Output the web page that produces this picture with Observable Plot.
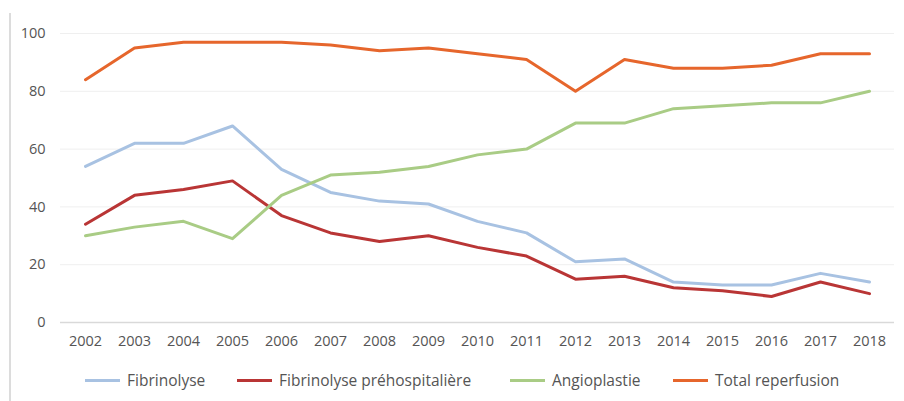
<!DOCTYPE html>
<html>
<head>
<meta charset="utf-8">
<script src="https://cdn.jsdelivr.net/npm/d3@7"></script>
<script src="https://cdn.jsdelivr.net/npm/@observablehq/plot@0.6"></script>
<style>
  html, body { margin: 0; padding: 0; background: #fff; }
  body { width: 904px; height: 401px; position: relative; overflow: hidden; font-family: "Open Sans", sans-serif; }
  #border { position: absolute; left: 9px; top: 13px; width: 2px; height: 390px; background: #dcdcdc; }
  #chart { position: absolute; left: 0; top: 0; }
  #legend { position: absolute; top: 369px; left: 0; width: 904px; height: 22px; }
  .item { position: absolute; top: 0; display: flex; align-items: center; height: 22px; color: #555555; font-size: 15.5px; white-space: nowrap; }
  .sw { width: 35px; height: 3px; margin-right: 7px; }
</style>
</head>
<body>
<div id="border"></div>
<div id="chart"></div>
<div id="legend"></div>
<script>
const years = [2002,2003,2004,2005,2006,2007,2008,2009,2010,2011,2012,2013,2014,2015,2016,2017,2018];
const seriesNames = ["Fibrinolyse", "Fibrinolyse préhospitalière", "Angioplastie", "Total reperfusion"];
const seriesColors = ["#a8c2e2", "#b93535", "#a9cc85", "#e6662c"];
const fibrinolyse = [54, 62, 62, 68, 53, 45, 42, 41, 35, 31, 21, 22, 14, 13, 13, 17, 14];
const prehospitaliere = [34, 44, 46, 49, 37, 31, 28, 30, 26, 23, 15, 16, 12, 11, 9, 14, 10];
const angioplastie = [30, 33, 35, 29, 44, 51, 52, 54, 58, 60, 69, 69, 74, 75, 76, 76, 80];
const totalReperfusion = [84, 95, 97, 97, 97, 96, 94, 95, 93, 91, 80, 91, 88, 88, 89, 93, 93];
const yTicks = [0, 20, 40, 60, 80, 100];

const allSeries = [fibrinolyse, prehospitaliere, angioplastie, totalReperfusion];
const data = [];
allSeries.forEach((vals, si) => {
  vals.forEach((v, i) => data.push({ year: String(years[i]), value: v, series: seriesNames[si] }));
});

const chart = Plot.plot({
  width: 904,
  height: 360,
  marginLeft: 60,
  marginRight: 10,
  marginTop: 33,
  marginBottom: 38,
  style: { fontFamily: "Open Sans, sans-serif", fontSize: "14.5px", color: "#555555", background: "transparent" },
  x: { type: "point", domain: years.map(String), padding: 0.5, align: 0.5, label: null },
  y: { domain: [0, 100], label: null },
  color: { domain: seriesNames, range: seriesColors },
  marks: [
    Plot.ruleY(yTicks.filter(d => d > 0), { stroke: "#efefef", strokeWidth: 1 }),
    Plot.ruleY([0], { stroke: "#d9d9d9", strokeWidth: 1.5 }),
    Plot.axisY({ ticks: yTicks, tickSize: 0, tickPadding: 15, label: null, fill: "#555555" }),
    Plot.axisX({ tickSize: 0, tickPadding: 13, label: null, fill: "#555555" }),
    Plot.line(data, { x: "year", y: "value", z: "series", stroke: "series", strokeWidth: 3, strokeLinejoin: "round", strokeLinecap: "round" })
  ]
});
document.getElementById("chart").appendChild(chart);

const legendPos = [85, 237, 510, 673];
const legend = document.getElementById("legend");
seriesNames.forEach((name, i) => {
  const it = document.createElement("div");
  it.className = "item";
  it.style.left = legendPos[i] + "px";
  const sw = document.createElement("div");
  sw.className = "sw";
  sw.style.background = seriesColors[i];
  const t = document.createElement("span");
  t.textContent = name;
  it.appendChild(sw);
  it.appendChild(t);
  legend.appendChild(it);
});
</script>
</body>
</html>
